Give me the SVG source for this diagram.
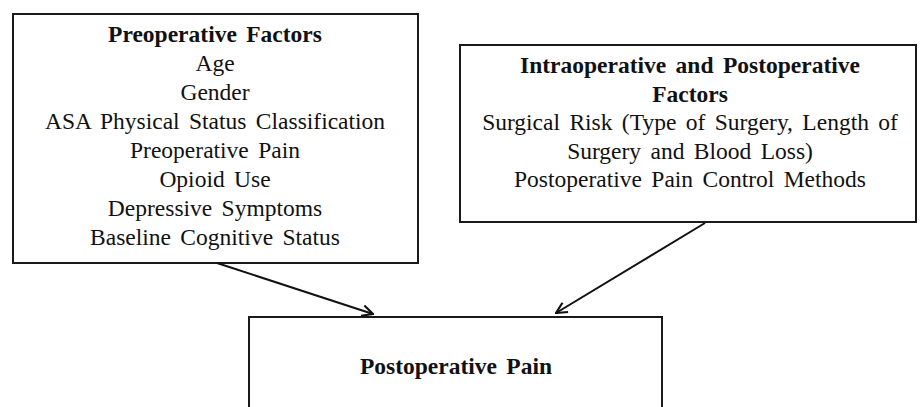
<svg xmlns="http://www.w3.org/2000/svg" width="920" height="407" viewBox="0 0 920 407">
<defs>
<style>
.box{fill:#fff;stroke:#1a1a1a;stroke-width:2}
.t{font-family:"Liberation Serif","Times New Roman",serif;font-size:23.5px;word-spacing:3.5px;fill:#111;text-anchor:middle}
.b{font-weight:bold}
.c{fill:none;stroke:#111;stroke-width:2}
</style>
<marker id="ah" viewBox="0 0 12 12" refX="11" refY="6" markerWidth="13" markerHeight="13" markerUnits="userSpaceOnUse" orient="auto">
<path d="M1,1 L11,6 L1,11" fill="none" stroke="#111" stroke-width="2"/>
</marker>
</defs>
<rect width="920" height="407" fill="#fff"/>
<g id="preop">
<rect class="box" x="13" y="14" width="405" height="249"/>
<text class="t b" x="215" y="42">Preoperative Factors</text>
<text class="t" x="215" y="71">Age</text>
<text class="t" x="215" y="100">Gender</text>
<text class="t" x="215" y="129">ASA Physical Status Classification</text>
<text class="t" x="215" y="158">Preoperative Pain</text>
<text class="t" x="215" y="187">Opioid Use</text>
<text class="t" x="215" y="216">Depressive Symptoms</text>
<text class="t" x="215" y="245">Baseline Cognitive Status</text>
</g>
<g id="intraop">
<rect class="box" x="460" y="45" width="456" height="177"/>
<text class="t b" x="690" y="73">Intraoperative and Postoperative</text>
<text class="t b" x="690" y="102">Factors</text>
<text class="t" x="690" y="130">Surgical Risk (Type of Surgery, Length of</text>
<text class="t" x="690" y="159">Surgery and Blood Loss)</text>
<text class="t" x="690" y="187">Postoperative Pain Control Methods</text>
</g>
<g id="pain">
<rect class="box" x="249" y="317" width="413" height="110"/>
<text class="t b" x="456" y="374">Postoperative Pain</text>
</g>
<g id="connectors">
<line class="c" x1="217" y1="263" x2="373" y2="314" marker-end="url(#ah)"/>
<line class="c" x1="705" y1="223" x2="556" y2="313" marker-end="url(#ah)"/>
</g>
</svg>
